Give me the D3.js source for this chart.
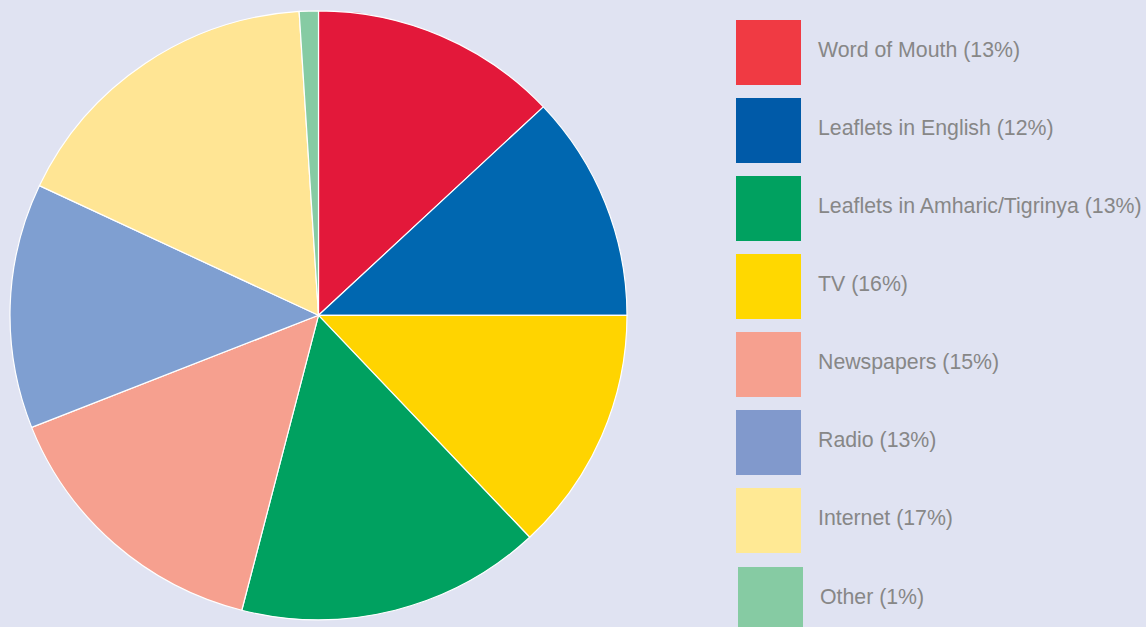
<!DOCTYPE html>
<html>
<head>
<meta charset="utf-8">
<script src="https://cdn.jsdelivr.net/npm/d3@7/dist/d3.min.js"></script>
<style>
  html, body { margin: 0; padding: 0; background: #e0e3f2; }
  svg { display: block; }
</style>
</head>
<body>
<svg id="chart" width="1146" height="627"></svg>
<script>
// Data (legend order)
const categories = ["Word of Mouth", "Leaflets in English", "Leaflets in Amharic/Tigrinya", "TV", "Newspapers", "Radio", "Internet", "Other"];
const values = [13, 12, 13, 16, 15, 13, 17, 1];
// Slice values as drawn in the pie, clockwise from 12 o'clock
const sliceValues = [13, 12, 13, 16, 15, 13, 17, 1];
const sliceColors = ["#e3183a", "#0067b0", "#ffd400", "#00a160", "#f6a08f", "#7f9fd1", "#ffe594", "#86cba3"];
const legendColors = ["#f03a43", "#005aa8", "#00a160", "#ffd800", "#f6a08f", "#8199cc", "#ffe994", "#86cba3"];

const svg = d3.select("#chart");
const cx = 318.5, cy = 315.3, rx = 308.5, ry = 304.5;

const pie = d3.pie().sort(null).value(d => d)(sliceValues);
const arc = d3.arc().innerRadius(0).outerRadius(rx);

svg.append("g").attr("transform", `translate(${cx},${cy}) scale(1,${ry / rx})`)
  .selectAll("path").data(pie).join("path")
  .attr("d", arc)
  .attr("fill", (d, i) => sliceColors[i])
  .attr("stroke", "#ffffff")
  .attr("stroke-width", 1.2)
  .attr("stroke-linejoin", "round");

// Legend
const yScale = d3.scaleBand().domain(d3.range(categories.length)).range([20, 20 + 78 * categories.length]).paddingInner(0);
const leg = svg.append("g");
const items = leg.selectAll("g").data(categories).join("g")
  .attr("transform", (d, i) => `translate(${i === 7 ? 738 : 736},${yScale(i) + (i === 7 ? 1 : 0)})`);
items.append("rect")
  .attr("width", 65).attr("height", 65)
  .attr("fill", (d, i) => legendColors[i]);
items.append("text")
  .attr("x", 82).attr("y", 37)
  .attr("font-family", "'Liberation Sans', Arial, Helvetica, sans-serif")
  .attr("font-size", "21.3px")
  .attr("fill", "#878787")
  .text((d, i) => `${d} (${values[i]}%)`);
</script>
</body>
</html>
